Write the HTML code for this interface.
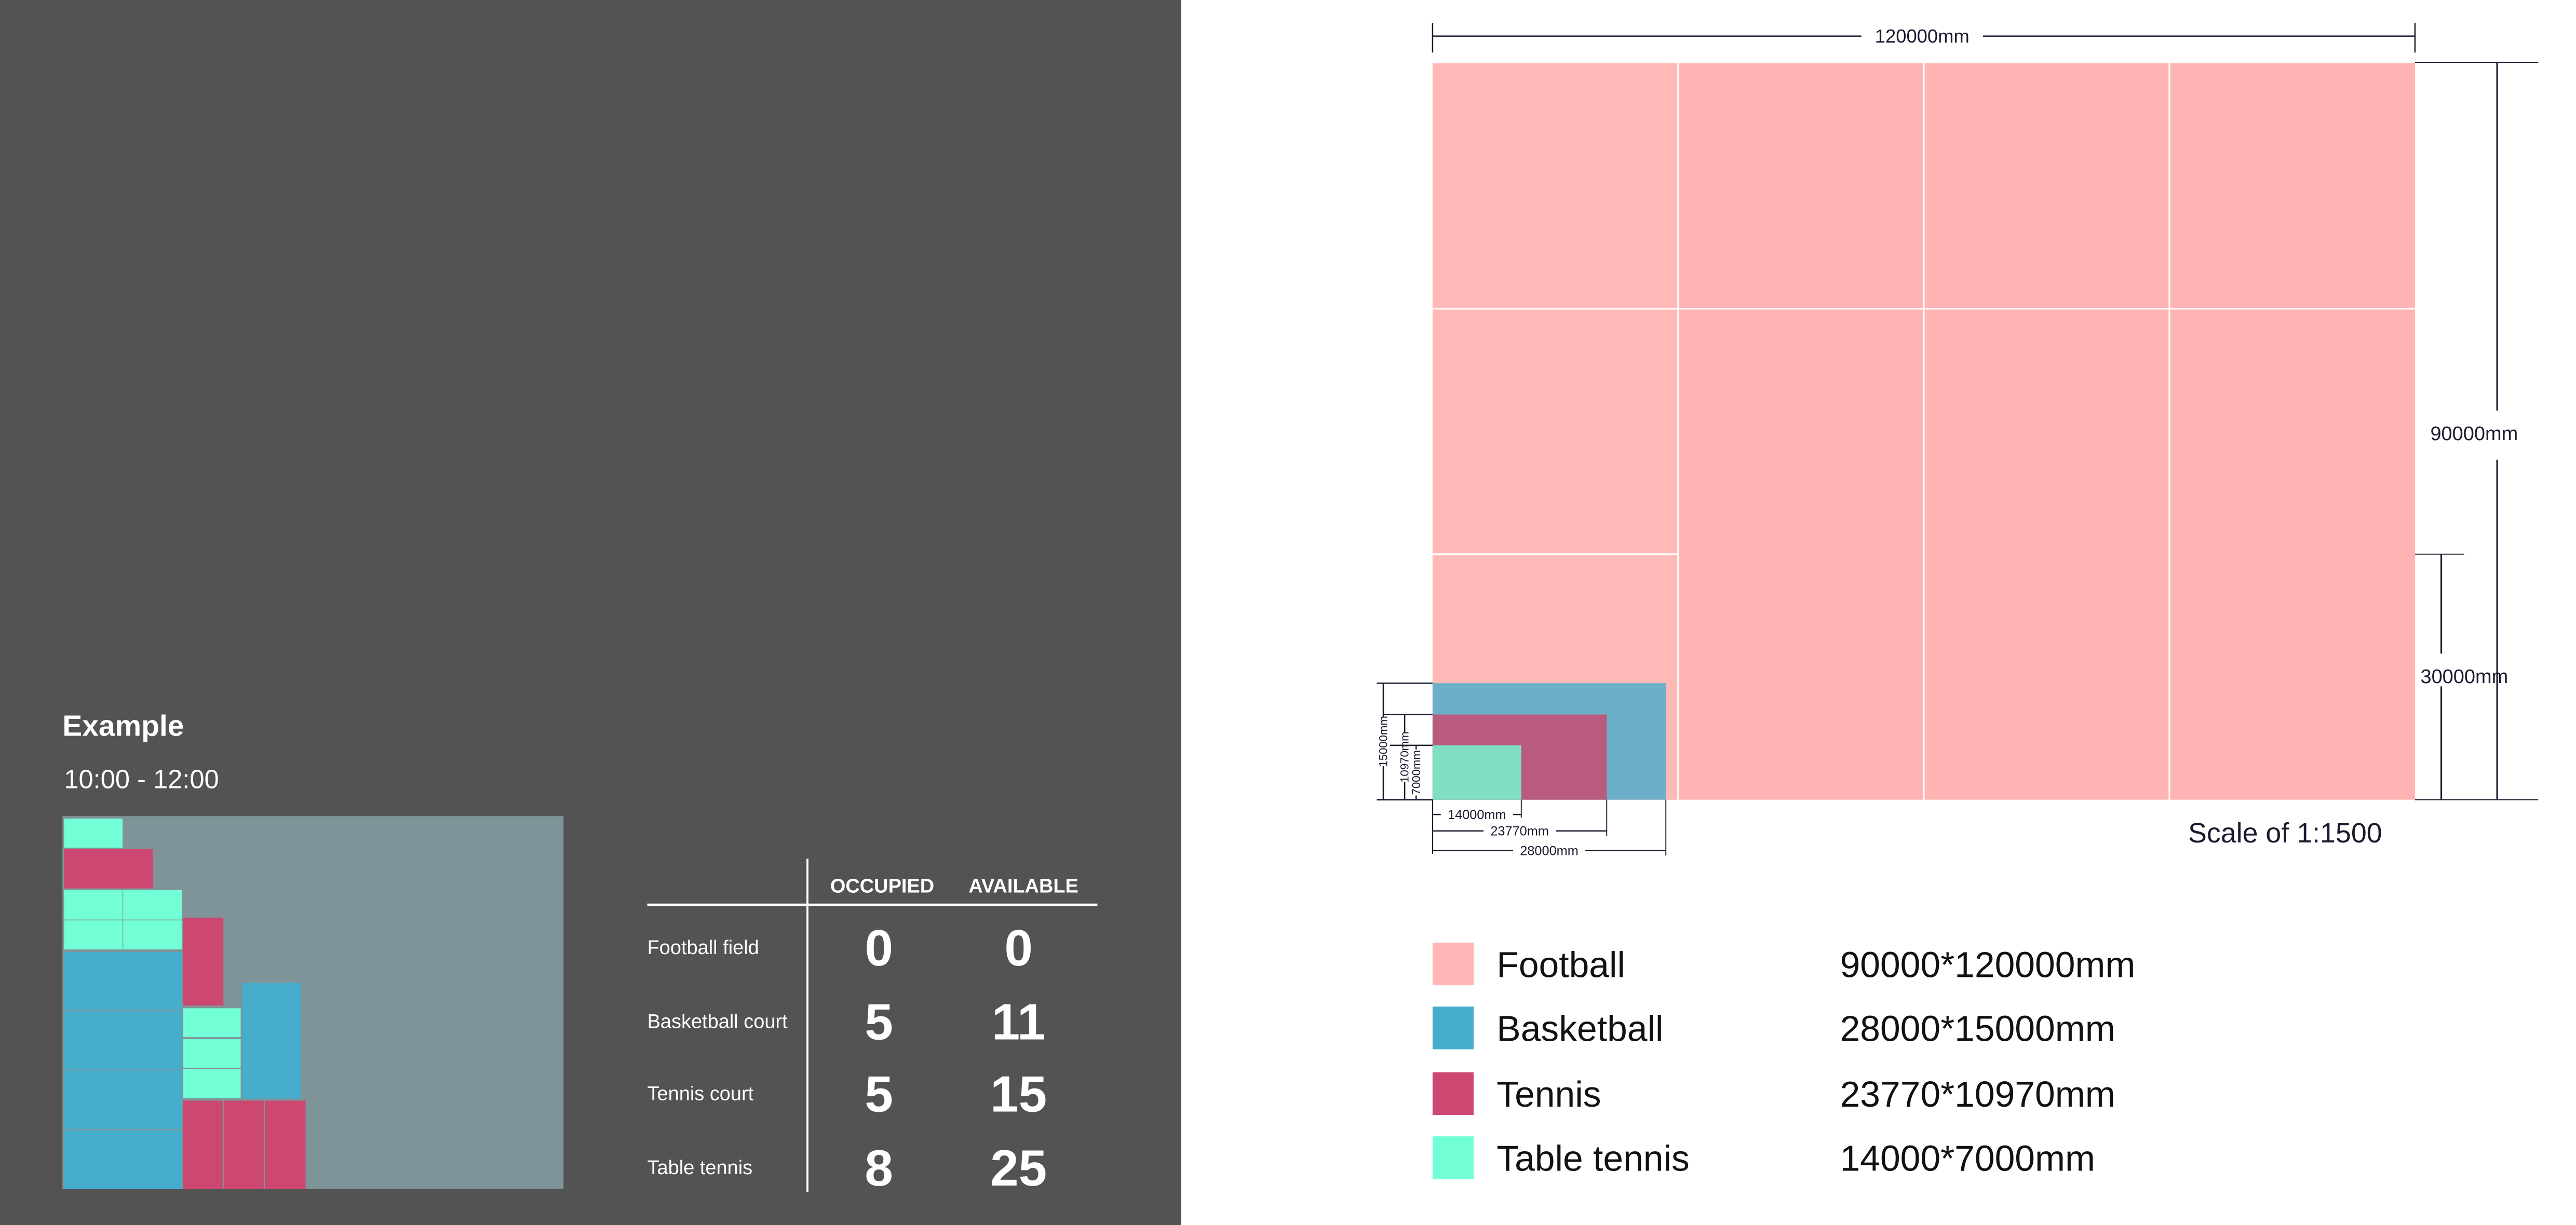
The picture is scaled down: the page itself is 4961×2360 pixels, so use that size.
<!DOCTYPE html>
<html><head><meta charset="utf-8"><style>
html,body{margin:0;padding:0;background:#fff}
svg{display:block}
text{font-family:"Liberation Sans",Arial,sans-serif}
</style></head><body>
<svg id="root" width="4961" height="2360" viewBox="0 0 1568 746" preserveAspectRatio="none" xmlns="http://www.w3.org/2000/svg">
<rect x="0" y="0" width="719" height="746" fill="#535353"/>
<rect x="719" y="0" width="849" height="746" fill="#ffffff"/>
<text x="38" y="448" font-size="18" font-weight="bold" fill="#fff">Example</text>
<text x="39" y="480" font-size="16" fill="#fff">10:00 - 12:00</text>
<rect x="38" y="497" width="305" height="227" fill="#7f9498"/>
<g id="blocks"></g>
<g>
<line x1="491.5" y1="523" x2="491.5" y2="726" stroke="#fff" stroke-width="1.2"/>
<line x1="394" y1="551" x2="668" y2="551" stroke="#fff" stroke-width="1.5"/>
<text x="537" y="543.5" font-size="12" font-weight="bold" fill="#fff" text-anchor="middle">OCCUPIED</text>
<text x="623" y="543.5" font-size="12" font-weight="bold" fill="#fff" text-anchor="middle">AVAILABLE</text>
<g id="rows"></g>
</g>
<g id="plan"></g>
<g id="legend"></g>
<text x="1450" y="513" font-size="17" fill="#1a1a2e" text-anchor="end">Scale of 1:1500</text>
</svg>
<script>
const NS="http://www.w3.org/2000/svg";
const sports=["Football","Basketball","Tennis","Table tennis"];
const rowLabels=["Football field","Basketball court","Tennis court","Table tennis"];
const occupied=[0,5,5,8];
const available=[0,11,15,25];
const widthsMM=[120000,28000,23770,14000];
const heightsMM=[90000,15000,10970,7000];
const sizeLabels=["90000*120000mm","28000*15000mm","23770*10970mm","14000*7000mm"];
const legendColors=["#ffb6b5","#47adcd","#cc4870","#72ffd6"];
const planColors=["#ffb3b3","#6bb0c8","#b85b7e","#80dec3"];
function mk(tag,attrs,parent){const e=document.createElementNS(NS,tag);for(const k in attrs)e.setAttribute(k,attrs[k]);parent.appendChild(e);return e;}
const B=[[39,498.5,74.6,516.2,3],[39,517,93,541,2],[39,542,74.6,560,3],[75,542,110.6,560,3],[39,560.5,74.6,578.2,3],[75,560.5,110.6,578.2,3],
[111.5,558.8,136,612.4,2],[39,579.7,110.6,615,1],[39,615.6,110.6,651.3,1],[39,651.9,110.6,687.6,1],[39,688.3,110.6,724.2,1],
[147.5,598.5,183,669,1],[111.5,614,146.5,631.6,3],[111.5,632.7,146.5,650.2,3],[111.5,651,146.5,668.6,3],
[111.5,670.3,135.5,724.2,2],[136.2,670.3,160.5,724.2,2],[161.2,670.3,186,724.2,2]];
const bg=document.getElementById('blocks');
B.forEach(b=>{const r=mk('rect',{x:b[0],y:b[1],width:b[2]-b[0],height:b[3]-b[1],fill:legendColors[b[4]]},bg);

});
const rows=document.getElementById('rows');
const rowY=[577,622,666,711];
rowLabels.forEach((l,i)=>{
 const t=mk('text',{x:394,y:rowY[i]+4,'font-size':12,fill:'#fff'},rows);t.textContent=l;
 
 
 const a=mk('text',{x:535,y:rowY[i]+11,'font-size':31,'font-weight':'bold',fill:'#fff','text-anchor':'middle'},rows);a.textContent=occupied[i];
 
 
 const b=mk('text',{x:620,y:rowY[i]+11,'font-size':31,'font-weight':'bold',fill:'#fff','text-anchor':'middle'},rows);b.textContent=available[i];
 
 
});
// plan scales
const X0=872,Y1=487,sc=(1470-872)/120000;
const sx=v=>X0+v*sc, sy=v=>Y1-v*sc;
// inset (not-to-scale) scales for small courts
const insetDom=[0,14000,23770,28000], insetRng=[0,54,106,142];
function ix(v){for(let i=1;i<insetDom.length;i++){if(v<=insetDom[i]||i===insetDom.length-1){const t=(v-insetDom[i-1])/(insetDom[i]-insetDom[i-1]);return X0+insetRng[i-1]+t*(insetRng[i]-insetRng[i-1]);}}}
const iy=v=>Y1-v*0.00473;
const plan=document.getElementById('plan');
const fw=sx(widthsMM[0])-X0, fh=Y1-sy(heightsMM[0]);
const fr=mk('rect',{x:X0,y:sy(heightsMM[0]),width:fw,height:fh,fill:planColors[0]},plan);


const c1=mk('rect',{x:X0,y:sy(heightsMM[0]),width:fw/4,height:fh,fill:'#ffbab8'},plan);


[30000,60000,90000].forEach(v=>{const l=mk('line',{x1:sx(v),y1:sy(90000),x2:sx(v),y2:Y1,stroke:'#fff','stroke-width':1},plan);

});
const h1=mk('line',{x1:X0,y1:sy(60000),x2:sx(120000),y2:sy(60000),stroke:'#fff','stroke-width':1},plan);


const h2=mk('line',{x1:X0,y1:sy(30000),x2:sx(30000),y2:sy(30000),stroke:'#fff','stroke-width':1},plan);


for(let i=1;i<4;i++){const r=mk('rect',{x:X0,y:iy(heightsMM[i]),width:ix(widthsMM[i])-X0,height:Y1-iy(heightsMM[i]),fill:planColors[i]},plan);

}
const dk='#1a1a2e';
function ln(x1,y1,x2,y2,w){const l=mk('line',{x1,y1,x2,y2,stroke:dk,'stroke-width':w||0.8},plan);

}
function tx(x,y,s,str,rot){const t=mk('text',{x,y,'font-size':s,fill:dk,'text-anchor':'middle'},plan);if(rot)t.setAttribute('transform','rotate(-90 '+x+' '+y+')');t.textContent=str;

}
ln(872,22,1133,22);ln(1207,22,1470,22);ln(872,14,872,32);ln(1470,14,1470,32);
tx(1170,26,11.5,widthsMM[0]+'mm');
ln(1470,38,1545,38,0.6);ln(1470,487,1545,487,0.6);ln(1520,38,1520,250,1);ln(1520,280,1520,487,1);
tx(1506,268,12,heightsMM[0]+'mm');
ln(1470,sy(30000),1500,sy(30000),0.6);ln(1486,sy(30000),1486,398,1);ln(1486,418,1486,487,1);
tx(1500,416,12,'30000mm');
[[842,1],[855,2],[862,3]].forEach((d,i)=>{const y=iy(heightsMM[d[1]]);ln(838+i*4,y,872,y,0.8);
const mid=(y+487)/2;const g=heightsMM[d[1]]>9000?15:14;ln(d[0],y,d[0],mid-g,0.8);ln(d[0],mid+g,d[0],487,0.8);tx(d[0]+2.4,mid,7,heightsMM[d[1]]+'mm',true);});
ln(838,487,872,487,0.9);
const bd=[[3,496],[2,506],[1,518]];
bd.forEach(d=>{const x2=ix(widthsMM[d[0]]);ln(872,487,872,520,0.6);ln(x2,487,x2,d[1]+(d[0]==3?2:3),0.6);
const m=(872+x2)/2;ln(872,d[1],Math.max(874,m-22),d[1],0.8);ln(Math.min(x2-2,m+22),d[1],x2,d[1],0.8);tx(m,d[1]+2.8,8,widthsMM[d[0]]+'mm');});
const lg=document.getElementById('legend');
const ly=[587,626,666,705];
sports.forEach((s,i)=>{
 const r=mk('rect',{x:872,y:ly[i]-13,width:25,height:26,fill:legendColors[i]},lg);
 
 
 const t=mk('text',{x:911,y:ly[i]+8,'font-size':22,fill:'#111'},lg);t.textContent=s;
 
 
 const v=mk('text',{x:1120,y:ly[i]+8,'font-size':22,fill:'#111'},lg);v.textContent=sizeLabels[i];
 
 
});
</script>
</body></html>
